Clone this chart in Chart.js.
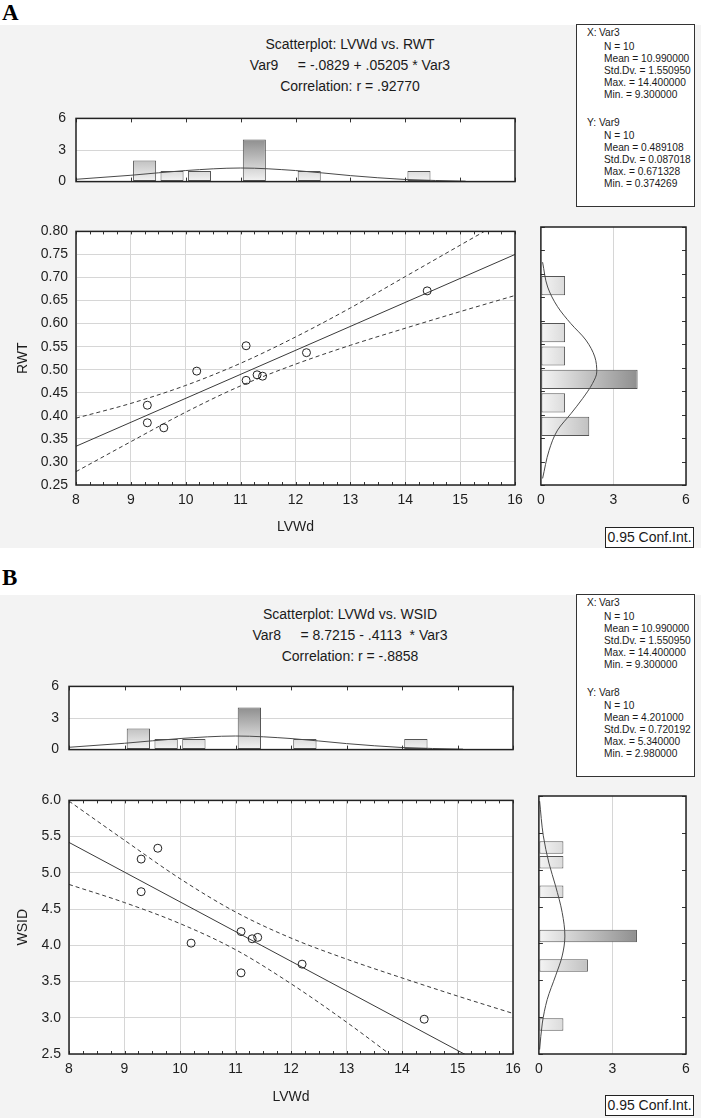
<!DOCTYPE html>
<html>
<head>
<meta charset="utf-8">
<script src="https://cdn.jsdelivr.net/npm/chart.js@4.4.1/dist/chart.umd.min.js"></script>
<style>
  body { margin: 0; width: 701px; height: 1118px; background: #fff; position: relative; overflow: hidden;
         font-family: "Liberation Sans", Arial, sans-serif; color: #1a1a1a; }
  div { box-sizing: border-box; }
  canvas { position: absolute; }
  .panelbg { position: absolute; left: 0; width: 701px; background: #f3f3f3; }
  .letter { position: absolute; left: 2px; font: bold 23px "Liberation Serif", "Times New Roman", serif; color: #000; }
  .title { position: absolute; left: 150px; width: 400px; text-align: center; font-size: 14px; line-height: 21px; white-space: pre; }
  .stats { position: absolute; left: 576px; width: 119px; height: 183px; background: #fff; border: 1px solid #333; font-size: 10.2px; }
  .stats div { position: absolute; white-space: pre; line-height: 12px; }
  .conf { position: absolute; left: 605px; width: 89px; height: 21px; border: 1px solid #222; background: #fff;
          font-size: 14px; line-height: 19px; text-align: center; }
</style>
</head>
<body>
<div class="panelbg" style="top:25px;height:523px"></div>
<div class="panelbg" style="top:595px;height:523px"></div>

<div class="letter" style="top:0px">A</div>
<div class="title" style="top:34px">Scatterplot: LVWd vs. RWT
Var9     = -.0829 + .05205 * Var3
Correlation: r = .92770</div>
<div class="stats" id="statsA" style="top:24px"></div>
<div class="conf" style="top:527px">0.95 Conf.Int.</div>
<canvas id="histTopA" width="530" height="100" style="left:0;top:100px"></canvas>
<canvas id="scatA" width="530" height="330" style="left:0;top:215px"></canvas>
<canvas id="histRightA" width="171" height="330" style="left:530px;top:215px"></canvas>

<div class="letter" style="top:565px">B</div>
<div class="title" style="top:604px">Scatterplot: LVWd vs. WSID
Var8     = 8.7215 - .4113  * Var3
Correlation: r = -.8858</div>
<div class="stats" id="statsB" style="top:594px"></div>
<div class="conf" style="top:1095px">0.95 Conf.Int.</div>
<canvas id="histTopB" width="530" height="100" style="left:0;top:668px"></canvas>
<canvas id="scatB" width="530" height="334" style="left:0;top:784px"></canvas>
<canvas id="histRightB" width="173" height="334" style="left:528px;top:784px"></canvas>

<script>
// raw values (10 cases)
const lvwd = [9.3, 9.3, 9.6, 10.2, 11.1, 11.1, 11.3, 11.4, 12.2, 14.4];
const rwt  = [0.423, 0.385, 0.374, 0.497, 0.552, 0.477, 0.489, 0.486, 0.537, 0.671];
const wsid = [5.19, 4.74, 5.34, 4.03, 4.19, 3.62, 4.09, 4.11, 3.74, 2.98];

// regression lines (end points) and 0.95 confidence bands
const fitA = [{ x: 8, y: 0.334 }, { x: 16, y: 0.750 }];
const fitB = [{ x: 8, y: 5.42 }, { x: 16, y: 2.14 }];
const bandX  = [8, 9, 10, 11, 12, 13, 14, 15, 16];
const upperA = [0.395, 0.427, 0.466, 0.514, 0.571, 0.634, 0.702, 0.770, 0.838];
const lowerA = [0.279, 0.344, 0.408, 0.465, 0.512, 0.553, 0.590, 0.626, 0.661];
const upperB = [5.99, 5.45, 4.92, 4.46, 4.10, 3.81, 3.55, 3.30, 3.06];
const lowerB = [4.84, 4.59, 4.30, 3.94, 3.47, 2.94, 2.37, 1.80, 1.22];

// histograms: bin centres and counts
const lvwdBins   = [9.25, 9.75, 10.25, 11.25, 12.25, 14.25];
const lvwdCounts = [2, 1, 1, 4, 1, 1];
const rwtBins    = [0.375, 0.425, 0.475, 0.525, 0.575, 0.675];
const rwtCounts  = [2, 1, 4, 1, 1, 1];
const wsidBins   = [2.9, 3.7, 4.1, 4.7, 5.1, 5.3];
const wsidCounts = [1, 2, 4, 1, 1, 1];

// fitted normal curves over the histograms
const lvwdCurveX = [8, 9, 10, 11, 12, 13, 14, 15.1];
const lvwdCurveN = [0.22, 0.6, 1.05, 1.29, 1.05, 0.57, 0.2, 0.04];
const rwtCurveY  = [0.264, 0.324, 0.367, 0.402, 0.434, 0.466, 0.491, 0.523, 0.559, 0.594, 0.630, 0.672, 0.725];
const rwtCurveN  = [0.07, 0.34, 0.69, 1.24, 1.72, 2.13, 2.31, 2.23, 1.86, 1.24, 0.69, 0.28, 0.07];
const wsidCurveY = [2.56, 2.92, 3.24, 3.56, 3.83, 4.10, 4.42, 4.78, 5.09, 5.46, 5.93];
const wsidCurveN = [0.03, 0.14, 0.34, 0.68, 0.95, 1.06, 0.95, 0.68, 0.41, 0.18, 0.03];

// tick labels
const lvwdTicks  = [8, 9, 10, 11, 12, 13, 14, 15, 16];
const rwtTicks   = [0.25, 0.30, 0.35, 0.40, 0.45, 0.50, 0.55, 0.60, 0.65, 0.70, 0.75, 0.80];
const wsidTicks  = [2.5, 3.0, 3.5, 4.0, 4.5, 5.0, 5.5, 6.0];
const countTicks = [0, 3, 6];

const statsA = [
  ['X:', 'Var3'], 'N = 10', 'Mean = 10.990000', 'Std.Dv. = 1.550950', 'Max. = 14.400000', 'Min. = 9.300000',
  ['Y:', 'Var9'], 'N = 10', 'Mean = 0.489108', 'Std.Dv. = 0.087018', 'Max. = 0.671328', 'Min. = 0.374269'
];
const statsB = [
  ['X:', 'Var3'], 'N = 10', 'Mean = 10.990000', 'Std.Dv. = 1.550950', 'Max. = 14.400000', 'Min. = 9.300000',
  ['Y:', 'Var8'], 'N = 10', 'Mean = 4.201000', 'Std.Dv. = 0.720192', 'Max. = 5.340000', 'Min. = 2.980000'
];

// stats text boxes
const lineTops = [2, 16, 28, 40, 52, 64, 92, 105, 117, 129, 141, 153];
function fillStats(id, lines) {
  const box = document.getElementById(id);
  lines.forEach((l, i) => {
    if (Array.isArray(l)) {
      box.insertAdjacentHTML('beforeend', `<div style="left:10px;top:${lineTops[i]}px">${l[0]}</div>`);
      box.insertAdjacentHTML('beforeend', `<div style="left:22px;top:${lineTops[i]}px">${l[1]}</div>`);
    } else {
      box.insertAdjacentHTML('beforeend', `<div style="left:27px;top:${lineTops[i]}px">${l}</div>`);
    }
  });
}
fillStats('statsA', statsA);
fillStats('statsB', statsB);

Chart.defaults.font.family = '"Liberation Sans", Arial, sans-serif';
Chart.defaults.font.size = 14;
Chart.defaults.color = '#1e1e1e';

const GRID = '#d6d6d6';
const LINE = '#3a3a3a';

// white plot area, frame and small inner tick marks
function frame(marks) {
  return {
    id: 'frame',
    beforeDraw(chart) {
      const a = chart.chartArea, c = chart.ctx;
      c.save();
      c.fillStyle = '#fff';
      c.fillRect(a.left, a.top, a.right - a.left, a.bottom - a.top);
      c.restore();
    },
    afterDraw(chart) {
      const a = chart.chartArea, c = chart.ctx;
      c.save();
      c.strokeStyle = '#333';
      c.lineWidth = 1;
      marks.forEach(m => {
        const sc = chart.scales[m.axis];
        m.values.forEach(v => {
          const p = Math.round(sc.getPixelForValue(v)) + 0.5;
          c.beginPath();
          if (m.axis === 'x') {
            c.moveTo(p, a.top); c.lineTo(p, a.top + m.len);
            c.moveTo(p, a.bottom); c.lineTo(p, a.bottom - m.len);
          } else {
            c.moveTo(a.left, p); c.lineTo(a.left + m.len, p);
            c.moveTo(a.right, p); c.lineTo(a.right - m.len, p);
          }
          c.stroke();
        });
      });
      c.lineWidth = 1.5;
      c.strokeStyle = '#222';
      c.strokeRect(a.left, a.top, a.right - a.left, a.bottom - a.top);
      c.restore();
    }
  };
}

function steps(from, to, step) {
  const out = [];
  for (let v = from; v <= to + step / 2; v += step) out.push(+v.toFixed(4));
  return out;
}

function vGrad(ctx) {
  const a = ctx.chart.chartArea;
  if (!a) return '#ccc';
  const g = ctx.chart.ctx.createLinearGradient(0, a.bottom, 0, a.top);
  g.addColorStop(0, '#f4f4f4');
  g.addColorStop(1, '#5c5c5c');
  return g;
}
function hGrad(ctx) {
  const a = ctx.chart.chartArea;
  if (!a) return '#ccc';
  const g = ctx.chart.ctx.createLinearGradient(a.left, 0, a.right, 0);
  g.addColorStop(0, '#f4f4f4');
  g.addColorStop(1, '#5c5c5c');
  return g;
}

const noPlugins = { legend: { display: false }, tooltip: { enabled: false } };

function topHist(id, yWidth, pad) {
  new Chart(document.getElementById(id), {
    type: 'bar',
    data: {
      datasets: [
        {
          type: 'line',
          data: lvwdCurveX.map((x, i) => ({ x: x, y: lvwdCurveN[i] })),
          borderColor: '#4a4a4a', borderWidth: 1, pointRadius: 0,
          cubicInterpolationMode: 'monotone', order: 0
        },
        {
          data: lvwdBins.map((x, i) => ({ x: x, y: lvwdCounts[i] })),
          backgroundColor: vGrad, borderColor: '#555', borderWidth: 1, borderSkipped: false,
          barPercentage: 1, categoryPercentage: 0.84, order: 1
        }
      ]
    },
    options: {
      responsive: false, animation: false,
      layout: { padding: pad },
      plugins: noPlugins,
      scales: {
        x: {
          type: 'linear', min: 8, max: 16, offset: false,
          afterBuildTicks(s) { s.ticks = lvwdTicks.map(v => ({ value: v })); },
          grid: { display: false, offset: false }, ticks: { display: false }, border: { display: false },
          afterFit(s) { s.height = pad.xh; }
        },
        y: {
          min: 0, max: 6,
          afterBuildTicks(s) { s.ticks = countTicks.map(v => ({ value: v })); },
          ticks: { padding: 10 },
          grid: { color: GRID, drawTicks: false }, border: { display: false },
          afterFit(s) { s.width = yWidth; }
        }
      }
    },
    plugins: [frame([{ axis: 'x', values: lvwdTicks, len: 4 }])]
  });
}

function scatter(id, ys, fit, up, lo, yTicks, yName, digits, yWidth, pad, xTitlePad) {
  const dash = { showLine: true, borderDash: [4, 3], borderColor: LINE, borderWidth: 1, pointRadius: 0,
                 cubicInterpolationMode: 'monotone' };
  new Chart(document.getElementById(id), {
    type: 'scatter',
    data: {
      datasets: [
        {
          data: lvwd.map((x, i) => ({ x: x, y: ys[i] })),
          pointRadius: 4, pointBorderWidth: 1, pointBorderColor: '#222',
          pointBackgroundColor: 'rgba(0,0,0,0)'
        },
        { data: fit, showLine: true, borderColor: LINE, borderWidth: 1, pointRadius: 0 },
        Object.assign({ data: bandX.map((x, i) => ({ x: x, y: up[i] })) }, dash),
        Object.assign({ data: bandX.map((x, i) => ({ x: x, y: lo[i] })) }, dash)
      ]
    },
    options: {
      responsive: false, animation: false,
      layout: { padding: pad },
      plugins: noPlugins,
      scales: {
        x: {
          type: 'linear', min: 8, max: 16,
          afterBuildTicks(s) { s.ticks = lvwdTicks.map(v => ({ value: v })); },
          ticks: { padding: 7 },
          grid: { color: GRID, drawTicks: false }, border: { display: false },
          title: { display: true, text: 'LVWd', padding: { top: 0, bottom: xTitlePad } },
          afterFit(s) { s.height = pad.xh; }
        },
        y: {
          type: 'linear', min: yTicks[0], max: yTicks[yTicks.length - 1],
          afterBuildTicks(s) { s.ticks = yTicks.map(v => ({ value: v })); },
          ticks: { padding: 8, callback: v => v.toFixed(digits) },
          grid: { color: GRID, drawTicks: false }, border: { display: false },
          title: { display: true, text: yName, padding: { top: 15, bottom: 0 } },
          afterFit(s) { s.width = yWidth; }
        }
      }
    },
    plugins: [frame([{ axis: 'x', values: steps(8, 16, 0.25), len: 3 }])]
  });
}

function rightHist(id, bins, counts, curveY, curveN, yTicks, catPct, pad) {
  new Chart(document.getElementById(id), {
    type: 'bar',
    data: {
      datasets: [
        {
          type: 'line',
          data: curveY.map((y, i) => ({ x: curveN[i], y: y })),
          borderColor: '#4a4a4a', borderWidth: 1, pointRadius: 0,
          cubicInterpolationMode: 'monotone', order: 0
        },
        {
          data: bins.map((y, i) => ({ x: counts[i], y: y })),
          backgroundColor: hGrad, borderColor: '#555', borderWidth: 1, borderSkipped: false,
          barPercentage: 1, categoryPercentage: catPct, order: 1
        }
      ]
    },
    options: {
      indexAxis: 'y',
      responsive: false, animation: false,
      layout: { padding: pad },
      plugins: noPlugins,
      scales: {
        x: {
          min: 0, max: 6,
          afterBuildTicks(s) { s.ticks = countTicks.map(v => ({ value: v })); },
          ticks: { padding: 7 },
          grid: { color: GRID, drawTicks: false }, border: { display: false },
          afterFit(s) { s.height = pad.xh; }
        },
        y: {
          type: 'linear', min: yTicks[0], max: yTicks[yTicks.length - 1], offset: false, display: false,
          afterBuildTicks(s) { s.ticks = yTicks.map(v => ({ value: v })); },
          grid: { offset: false }
        }
      }
    },
    plugins: [frame([{ axis: 'y', values: yTicks, len: 4 }])]
  });
}

// panel A
topHist('histTopA', 76, { top: 11, right: 15, left: 0, bottom: 0, xh: 5 });
scatter('scatA', rwt, fitA, upperA, lowerA, rwtTicks, 'RWT', 2, 76,
        { top: 12, right: 15, left: 0, bottom: 0, xh: 60 }, 9);
rightHist('histRightA', rwtBins, rwtCounts, rwtCurveY, rwtCurveN, rwtTicks, 0.82,
          { top: 12, right: 15, left: 10, bottom: 0, xh: 60 });

// panel B
topHist('histTopB', 69, { top: 11, right: 17, left: 0, bottom: 0, xh: 4 });
scatter('scatB', wsid, fitB, upperB, lowerB, wsidTicks, 'WSID', 1, 69,
        { top: 12, right: 17, left: 0, bottom: 0, xh: 64 }, 12);
rightHist('histRightB', wsidBins, wsidCounts, wsidCurveY, wsidCurveN, wsidTicks, 0.85,
          { top: 12, right: 15, left: 10, bottom: 0, xh: 64 });
</script>
</body>
</html>
